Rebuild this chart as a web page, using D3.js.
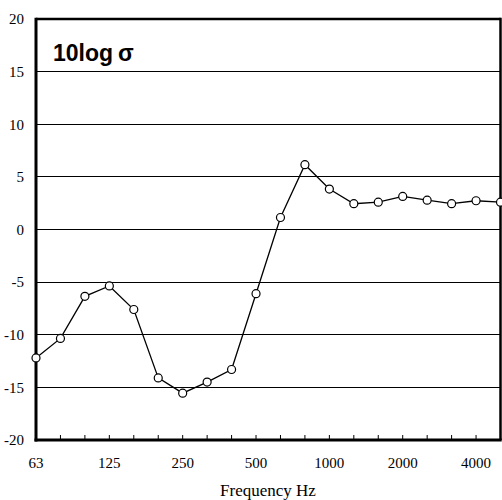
<!DOCTYPE html>
<html><head><meta charset="utf-8">
<script src="https://cdn.jsdelivr.net/npm/d3@7"></script>
<style>body{margin:0;background:#fff}</style>
</head><body>
<svg id="c" width="502" height="500"></svg>
<script>
const frequencies = ["63","80","100","125","160","200","250","315","400","500","630","800","1000","1250","1600","2000","2500","3150","4000","5000"];
const values = [-12.2,-10.35,-6.35,-5.36,-7.6,-14.1,-15.55,-14.5,-13.3,-6.1,1.14,6.16,3.84,2.45,2.6,3.14,2.79,2.45,2.73,2.6];
const xTickLabels = ["63","125","250","500","1000","2000","4000"];
const yTicks = [-20,-15,-10,-5,0,5,10,15,20];

const SERIF = '"Liberation Serif"';
const SANS = '"Liberation Sans"';
const svg = d3.select("#c");
const L=36, R=500.5, T=19, B=440;
const x = d3.scalePoint().domain(frequencies).range([L,R]);
const y = d3.scaleLinear().domain([-20,20]).range([B,T]);

// gridlines
svg.append("g").selectAll("line").data(yTicks.filter(d=>d>-20&&d<20)).join("line")
  .attr("x1",L).attr("x2",R).attr("y1",d=>y(d)).attr("y2",d=>y(d))
  .attr("stroke","#000").attr("stroke-width",1).attr("shape-rendering","crispEdges");

// x ticks (inward)
svg.append("g").selectAll("line").data(frequencies.slice(1,-1)).join("line")
  .attr("x1",d=>x(d)).attr("x2",d=>x(d)).attr("y1",B).attr("y2",B-5)
  .attr("stroke","#000").attr("stroke-width",1);

// frame
svg.append("line").attr("x1",L).attr("x2",R).attr("y1",T).attr("y2",T).attr("stroke","#000").attr("stroke-width",2.5);
svg.append("line").attr("x1",R).attr("x2",R).attr("y1",T-1.2).attr("y2",B).attr("stroke","#000").attr("stroke-width",2.5);
svg.append("line").attr("x1",L).attr("x2",L).attr("y1",T-1.2).attr("y2",B+1.5).attr("stroke","#000").attr("stroke-width",3);
svg.append("line").attr("x1",L-1.5).attr("x2",R+1.2).attr("y1",B).attr("y2",B).attr("stroke","#000").attr("stroke-width",3);

// y labels
svg.append("g").selectAll("text").data(yTicks).join("text")
  .style("font-family",SERIF)
  .attr("x",24).attr("y",d=>y(d)).attr("dy","0.35em").attr("text-anchor","end")
  .attr("font-size",15)
  .text(d=>d);

// x labels
svg.append("g").selectAll("text").data(xTickLabels).join("text")
  .style("font-family",SERIF)
  .attr("x",d=>x(d)).attr("y",468).attr("text-anchor","middle")
  .attr("font-size",15)
  .text(d=>d);

svg.append("text").style("font-family",SERIF).attr("x",268).attr("y",496).attr("text-anchor","middle")
  .attr("font-size",17)
  .text("Frequency Hz");

// title
const t = svg.append("text").style("font-family",SANS).attr("x",53).attr("y",61)
  .attr("font-weight","bold").attr("font-size",23);
t.append("tspan").text("10log");
t.append("tspan").attr("dx",5).text("σ");

// line
const data = frequencies.map((f,i)=>({f,v:values[i]}));
svg.append("path").datum(data)
  .attr("d",d3.line().x(d=>x(d.f)).y(d=>y(d.v)))
  .attr("fill","none").attr("stroke","#000").attr("stroke-width",1.3);
svg.append("g").selectAll("circle").data(data).join("circle")
  .attr("cx",d=>x(d.f)).attr("cy",d=>y(d.v)).attr("r",4)
  .attr("fill","#fff").attr("stroke","#000").attr("stroke-width",1.2);
</script>
</body></html>
